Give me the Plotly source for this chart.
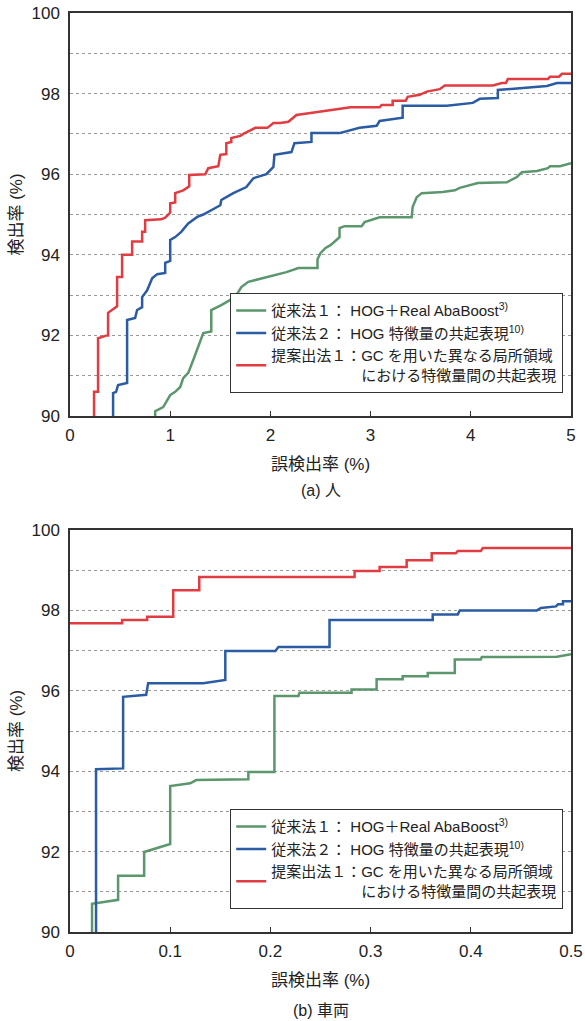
import plotly.graph_objects as go

# ---------- data: (a) 人 ----------
a_red_x = [0.24, 0.24, 0.28, 0.28, 0.37, 0.38, 0.38, 0.47, 0.47, 0.52, 0.52, 0.62, 0.62, 0.72, 0.72, 0.75, 0.75, 0.91, 0.95, 1.0, 1.0, 1.05, 1.05, 1.13, 1.19, 1.19, 1.35, 1.38, 1.48, 1.5, 1.56, 1.56, 1.61, 1.61, 1.70, 1.73, 1.85, 1.97, 2.03, 2.1, 2.18, 2.26, 2.4, 2.63, 2.8, 3.09, 3.11, 3.22, 3.22, 3.35, 3.37, 3.49, 3.56, 3.69, 3.74, 4.22, 4.31, 4.35, 4.37, 4.77, 4.79, 4.88, 4.91, 5.0]
a_red_y = [90.0, 90.6, 90.6, 91.93, 92.0, 92.0, 92.56, 92.72, 93.45, 93.45, 94.0, 94.0, 94.33, 94.33, 94.57, 94.57, 94.86, 94.88, 94.92, 95.05, 95.28, 95.3, 95.53, 95.6, 95.7, 95.98, 96.0, 96.15, 96.2, 96.48, 96.5, 96.77, 96.8, 96.9, 96.95, 97.0, 97.15, 97.15, 97.27, 97.27, 97.3, 97.47, 97.52, 97.59, 97.66, 97.66, 97.72, 97.72, 97.82, 97.82, 97.92, 97.97, 98.05, 98.11, 98.2, 98.2, 98.26, 98.26, 98.36, 98.36, 98.42, 98.42, 98.49, 98.49]

a_blue_x = [0.43, 0.43, 0.46, 0.48, 0.57, 0.57, 0.65, 0.67, 0.72, 0.72, 0.77, 0.82, 0.87, 0.95, 0.95, 1.0, 1.0, 1.05, 1.11, 1.18, 1.27, 1.33, 1.5, 1.51, 1.56, 1.63, 1.76, 1.83, 1.96, 2.03, 2.04, 2.21, 2.24, 2.41, 2.41, 2.69, 2.89, 3.06, 3.09, 3.32, 3.32, 3.76, 4.02, 4.09, 4.27, 4.27, 4.52, 4.76, 4.86, 5.0]
a_blue_y = [90.0, 90.57, 90.6, 90.77, 90.82, 92.38, 92.43, 92.63, 92.7, 92.95, 93.12, 93.42, 93.52, 93.55, 93.8, 93.85, 94.37, 94.44, 94.57, 94.78, 94.94, 95.0, 95.23, 95.36, 95.43, 95.53, 95.68, 95.9, 96.0, 96.18, 96.48, 96.55, 96.77, 96.8, 97.02, 97.02, 97.15, 97.2, 97.32, 97.4, 97.7, 97.7, 97.77, 97.87, 97.89, 98.09, 98.14, 98.19, 98.26, 98.26]

a_green_x = [0.85, 0.85, 0.93, 1.0, 1.05, 1.1, 1.13, 1.18, 1.23, 1.28, 1.33, 1.41, 1.41, 1.51, 1.6, 1.66, 1.71, 1.78, 1.9, 2.05, 2.16, 2.28, 2.47, 2.47, 2.5, 2.55, 2.6, 2.69, 2.69, 2.74, 2.91, 2.94, 3.04, 3.09, 3.41, 3.42, 3.46, 3.51, 3.72, 3.84, 3.89, 4.07, 4.36, 4.46, 4.51, 4.66, 4.77, 4.79, 4.89, 5.0]
a_green_y = [90.0, 90.12, 90.22, 90.52, 90.6, 90.72, 90.94, 91.07, 91.39, 91.71, 92.06, 92.1, 92.63, 92.75, 92.88, 93.0, 93.2, 93.33, 93.4, 93.5, 93.57, 93.67, 93.67, 93.89, 94.04, 94.17, 94.24, 94.44, 94.66, 94.71, 94.71, 94.81, 94.9, 94.93, 94.93, 95.19, 95.43, 95.53, 95.56, 95.6, 95.66, 95.78, 95.8, 95.93, 96.05, 96.08, 96.15, 96.2, 96.2, 96.27]

# ---------- data: (b) 車両 ----------
b_red_x = [0.0, 0.052, 0.052, 0.077, 0.077, 0.103, 0.103, 0.129, 0.129, 0.284, 0.284, 0.309, 0.309, 0.336, 0.336, 0.361, 0.361, 0.385, 0.387, 0.41, 0.412, 0.5]
b_red_y = [97.68, 97.68, 97.76, 97.76, 97.84, 97.84, 98.5, 98.5, 98.83, 98.83, 98.98, 98.98, 99.08, 99.08, 99.25, 99.25, 99.42, 99.42, 99.48, 99.48, 99.55, 99.55]

b_blue_x = [0.026, 0.026, 0.053, 0.053, 0.076, 0.078, 0.133, 0.155, 0.155, 0.205, 0.208, 0.259, 0.259, 0.362, 0.362, 0.387, 0.389, 0.466, 0.47, 0.485, 0.487, 0.492, 0.492, 0.5]
b_blue_y = [90.0, 94.05, 94.07, 95.85, 95.9, 96.19, 96.19, 96.27, 96.99, 96.99, 97.09, 97.09, 97.76, 97.76, 97.9, 97.9, 98.0, 98.0, 98.06, 98.1, 98.15, 98.15, 98.23, 98.23]

b_green_x = [0.022, 0.022, 0.048, 0.048, 0.074, 0.074, 0.1, 0.1, 0.12, 0.126, 0.178, 0.178, 0.204, 0.204, 0.228, 0.229, 0.281, 0.281, 0.306, 0.306, 0.332, 0.332, 0.357, 0.357, 0.384, 0.384, 0.41, 0.411, 0.486, 0.5]
b_green_y = [90.0, 90.7, 90.8, 91.4, 91.4, 91.99, 92.19, 93.63, 93.7, 93.78, 93.8, 93.98, 93.98, 95.87, 95.87, 95.95, 95.95, 96.03, 96.03, 96.29, 96.29, 96.36, 96.36, 96.44, 96.44, 96.78, 96.78, 96.84, 96.85, 96.91]

# ---------- labels ----------
names = [
    "従来法１：&nbsp;HOG＋Real AbaBoost<sup>3)</sup>",
    "従来法２：&nbsp;HOG 特徴量の共起表現<sup>10)</sup>",
    "提案出法１：GC を用いた異なる局所領域<br>" + "\u3000" * 6 + "における特徴量間の共起表現",
]
a_x_ticks = [0, 1, 2, 3, 4, 5]
b_x_ticks = [0, 0.1, 0.2, 0.3, 0.4, 0.5]
b_x_ticktext = ["0", "0.1", "0.2", "0.3", "0.4", "0.5"]

GREEN = "#5B966C"
BLUE = "#2B5BA3"
RED = "#E03C41"
FONT = "Liberation Sans, Arial, Noto Sans CJK JP, sans-serif"

fig = go.Figure()

for xs, ys, c, n in [(a_green_x, a_green_y, GREEN, names[0]),
                     (a_blue_x, a_blue_y, BLUE, names[1]),
                     (a_red_x, a_red_y, RED, names[2])]:
    fig.add_trace(go.Scatter(x=xs, y=ys, mode="lines", name=n,
                             line=dict(color=c, width=2.5),
                             xaxis="x", yaxis="y", legend="legend"))

for xs, ys, c, n in [(b_green_x, b_green_y, GREEN, names[0]),
                     (b_blue_x, b_blue_y, BLUE, names[1]),
                     (b_red_x, b_red_y, RED, names[2])]:
    fig.add_trace(go.Scatter(x=xs, y=ys, mode="lines", name=n,
                             line=dict(color=c, width=2.5),
                             xaxis="x2", yaxis="y2", legend="legend2"))

# page body margin is removed by post_script, so figure pixels == page pixels
W, H = 585, 1021
ml, mr, mt, mb = 70, 14, 13, 89
ph = H - mt - mb  # 919
def py(page_y):
    return (932 - page_y) / ph

top_dom = [py(416), 1.0]
bot_dom = [0.0, py(530)]

axis_common = dict(showline=True, linecolor="#333333", linewidth=1.5, mirror=True,
                   zeroline=False, automargin=False, ticklabeloverflow="allow",
                   tickfont=dict(size=17, color="#222", family=FONT))
xcommon = dict(axis_common, ticks="inside", ticklen=5, tickcolor="#333333", tickwidth=1,
               showgrid=False, ticklabelstandoff=3,
               title=dict(text="誤検出率 (%)", font=dict(size=17, color="#222", family=FONT), standoff=14))
ycommon = dict(axis_common, range=[90, 100], dtick=2, tick0=90, ticklabelstandoff=5,
               ticks="", showgrid=True, gridcolor="#999999", gridwidth=1, griddash="3px,3px",
               minor=dict(dtick=1, tick0=90, showgrid=True, gridcolor="#999999", gridwidth=1,
                          griddash="3px,3px", ticks=""),
               title=dict(text="検出率 (%)", font=dict(size=17, color="#222", family=FONT), standoff=5))

legend_common = dict(bgcolor="white", bordercolor="#333333", borderwidth=1.2,
                     font=dict(size=15, color="#222", family=FONT),
                     xanchor="right", yanchor="bottom", itemwidth=30,
                     tracegroupgap=0)

fig.update_layout(
    width=W, height=H,
    margin=dict(l=ml, r=mr, t=mt, b=mb),
    paper_bgcolor="white", plot_bgcolor="white",
    font=dict(family=FONT, color="#222"),
    xaxis=dict(xcommon, domain=[0, 1], range=[0, 5], tickvals=a_x_ticks, anchor="y"),
    yaxis=dict(ycommon, domain=top_dom, anchor="x"),
    xaxis2=dict(xcommon, domain=[0, 1], range=[0, 0.5], tickvals=b_x_ticks, ticktext=b_x_ticktext, anchor="y2"),
    yaxis2=dict(ycommon, domain=bot_dom, anchor="x2"),
    legend=dict(legend_common, x=(563 - 70) / 501, y=py(393)),
    legend2=dict(legend_common, x=(563 - 70) / 501, y=py(909)),
    showlegend=True,
    annotations=[
        dict(text="(a) 人", x=0.5, y=py(490), xref="paper", yref="paper", showarrow=False,
             xanchor="center", yanchor="middle",
             font=dict(size=16, color="#222", family=FONT)),
        dict(text="(b) 車両", x=0.5, y=py(1010), xref="paper", yref="paper", showarrow=False,
             xanchor="center", yanchor="middle",
             font=dict(size=16, color="#222", family=FONT)),
    ],
)

fig.write_html("out.html", config={"displayModeBar": False},
               post_script="document.body.style.margin='0';")
